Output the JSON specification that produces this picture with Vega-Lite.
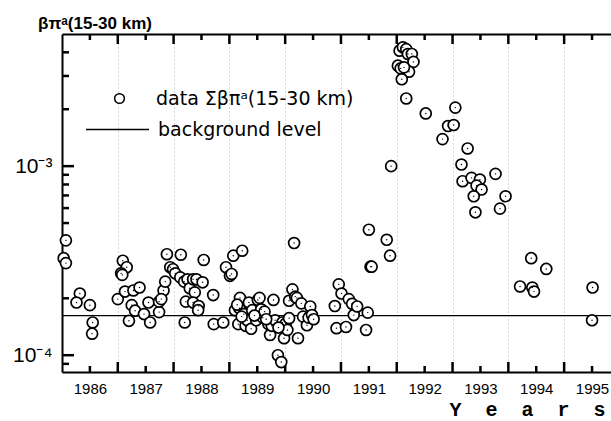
{
  "$schema": "https://vega.github.io/schema/vega-lite/v6.json",
  "width": 549,
  "height": 338,
  "autosize": {"type": "none"},
  "padding": {"left": 62, "top": 34, "right": 0, "bottom": 49},
  "background": "white",
  "title": {"text": "βπᵃ(15-30 km)", "anchor": "start", "frame": "group", "dx": -24, "dy": 18, "offset": 6, "baseline": "alphabetic", "font": "Liberation Sans", "fontSize": 17, "fontWeight": "bold", "color": "black"},
  "datasets": {
    "pts": [
      {"t":1986.07,"v":0.000405},{"t":1986.03,"v":0.000326},{"t":1986.07,"v":0.000307},{"t":1986.32,"v":0.000212},{"t":1986.26,"v":0.000190},{"t":1986.50,"v":0.000184},{"t":1986.55,"v":0.000149},{"t":1986.54,"v":0.000130},
      {"t":1987.00,"v":0.000198},{"t":1987.09,"v":0.000316},{"t":1987.16,"v":0.000292},{"t":1987.06,"v":0.000271},{"t":1987.08,"v":0.000266},{"t":1987.13,"v":0.000217},{"t":1987.20,"v":0.000152},{"t":1987.25,"v":0.000184},{"t":1987.31,"v":0.000172},{"t":1987.28,"v":0.000220},{"t":1987.39,"v":0.000228},{"t":1987.47,"v":0.000165},{"t":1987.55,"v":0.000190},{"t":1987.58,"v":0.000149},{"t":1987.74,"v":0.000169},{"t":1987.74,"v":0.000192},{"t":1987.82,"v":0.000220},{"t":1987.78,"v":0.000198},{"t":1987.85,"v":0.000245},{"t":1987.88,"v":0.000342},{"t":1987.94,"v":0.000292},{"t":1987.99,"v":0.000285},{"t":1988.03,"v":0.000271},{"t":1988.13,"v":0.000340},{"t":1988.12,"v":0.000258},{"t":1988.19,"v":0.000245},{"t":1988.20,"v":0.000149},{"t":1988.22,"v":0.000192},{"t":1988.25,"v":0.000252},{"t":1988.29,"v":0.000226},{"t":1988.35,"v":0.000252},{"t":1988.38,"v":0.000215},{"t":1988.41,"v":0.000252},{"t":1988.35,"v":0.000190},{"t":1988.45,"v":0.000182},{"t":1988.44,"v":0.000173},{"t":1988.52,"v":0.000243},{"t":1988.54,"v":0.000319},{"t":1988.71,"v":0.000208},{"t":1988.72,"v":0.000146},{"t":1988.89,"v":0.000149},{"t":1988.94,"v":0.000292},{"t":1989.01,"v":0.000263},{"t":1989.04,"v":0.000269},{"t":1989.07,"v":0.000336},{"t":1989.23,"v":0.000357},
      {"t":1989.10,"v":0.000173},{"t":1989.16,"v":0.000146},{"t":1989.19,"v":0.000201},{"t":1989.18,"v":0.000177},{"t":1989.26,"v":0.000165},{"t":1989.29,"v":0.000143},{"t":1989.32,"v":0.000153},{"t":1989.35,"v":0.000190},{"t":1989.39,"v":0.000138},{"t":1989.41,"v":0.000173},{"t":1989.48,"v":0.000153},{"t":1989.51,"v":0.000196},{"t":1989.54,"v":0.000201},{"t":1989.57,"v":0.000175},{"t":1989.60,"v":0.000158},{"t":1989.63,"v":0.000170},{"t":1989.70,"v":0.000146},{"t":1989.73,"v":0.000128},{"t":1989.76,"v":0.000143},{"t":1989.79,"v":0.000196},{"t":1989.82,"v":0.000153},{"t":1989.87,"v":0.000100},{"t":1989.93,"v":0.000092},{"t":1989.95,"v":0.000149},{"t":1989.98,"v":0.000123},{"t":1990.01,"v":0.000147},{"t":1990.04,"v":0.000136},{"t":1990.07,"v":0.000157},{"t":1990.13,"v":0.000223},{"t":1990.16,"v":0.000392},{"t":1990.07,"v":0.000194},{"t":1990.18,"v":0.000204},{"t":1990.21,"v":0.000201},{"t":1990.29,"v":0.000188},{"t":1990.32,"v":0.000160},{"t":1990.39,"v":0.000144},{"t":1990.42,"v":0.000158},{"t":1990.45,"v":0.000181},{"t":1990.48,"v":0.000163},{"t":1990.51,"v":0.000155},{"t":1990.23,"v":0.000123},
      {"t":1989.22,"v":0.000160},{"t":1989.45,"v":0.000162},{"t":1989.66,"v":0.000155},{"t":1989.88,"v":0.000140},{"t":1989.14,"v":0.000185},
      {"t":1990.89,"v":0.000182},{"t":1990.92,"v":0.000139},{"t":1990.96,"v":0.000237},{"t":1991.01,"v":0.000212},{"t":1991.09,"v":0.000141},{"t":1991.14,"v":0.000198},{"t":1991.20,"v":0.000187},{"t":1991.23,"v":0.000163},{"t":1991.29,"v":0.000181},{"t":1991.45,"v":0.000136},{"t":1991.48,"v":0.000168},{"t":1991.50,"v":0.000461},{"t":1991.53,"v":0.000294},{"t":1991.55,"v":0.000294},{"t":1991.82,"v":0.000408},{"t":1991.88,"v":0.000336},{"t":1991.90,"v":0.001},
      {"t":1992.05,"v":0.00408},{"t":1992.11,"v":0.00425},{"t":1992.17,"v":0.00416},{"t":1992.20,"v":0.00392},{"t":1992.27,"v":0.00392},{"t":1992.30,"v":0.00356},{"t":1992.22,"v":0.00316},{"t":1992.02,"v":0.00340},{"t":1992.07,"v":0.00329},{"t":1992.13,"v":0.00333},{"t":1992.09,"v":0.00288},{"t":1992.17,"v":0.00228},
      {"t":1992.52,"v":0.00190},{"t":1993.05,"v":0.00204},{"t":1992.92,"v":0.00163},{"t":1993.02,"v":0.00165},{"t":1992.82,"v":0.00139},{"t":1993.27,"v":0.00124},{"t":1993.16,"v":0.00102},{"t":1993.77,"v":0.00091},{"t":1993.18,"v":0.000832},{"t":1993.34,"v":0.000867},{"t":1993.49,"v":0.000849},{"t":1993.43,"v":0.000789},{"t":1993.52,"v":0.000752},{"t":1993.38,"v":0.000693},{"t":1993.95,"v":0.000693},{"t":1993.85,"v":0.000596},{"t":1993.41,"v":0.000570},
      {"t":1994.21,"v":0.000231},{"t":1994.41,"v":0.000326},{"t":1994.43,"v":0.000228},{"t":1994.46,"v":0.000217},{"t":1994.68,"v":0.000286},
      {"t":1995.51,"v":0.000228},{"t":1995.50,"v":0.000153}
    ],
    "bg": [{"level": 0.000162}],
    "xminor": [{"yr":1986.5},{"yr":1987.5},{"yr":1988.5},{"yr":1989.5},{"yr":1990.5},{"yr":1991.5},{"yr":1992.5},{"yr":1993.5},{"yr":1994.5},{"yr":1995.5}],
    "xmajor": [{"yr":1987},{"yr":1988},{"yr":1989},{"yr":1990},{"yr":1991},{"yr":1992},{"yr":1993},{"yr":1994},{"yr":1995}],
    "yminor": [{"val":0.00009},{"val":0.0002},{"val":0.0003},{"val":0.0004},{"val":0.0005},{"val":0.0006},{"val":0.0007},{"val":0.0008},{"val":0.0009},{"val":0.002},{"val":0.003},{"val":0.004}],
    "ymajor": [{"val":0.0001},{"val":0.001}]
  },
  "config": {
    "font": "Liberation Sans",
    "view": {"stroke": null},
    "axis": {"domainColor": "black", "domainWidth": 2, "tickColor": "black", "tickWidth": 2, "labelColor": "black", "titleColor": "black", "grid": false}
  },
  "resolve": {"scale": {"x": "shared", "y": "shared"}, "axis": {"x": "independent", "y": "independent"}},
  "layer": [
    {
      "data": {"name": "pts"},
      "mark": {"type": "point", "opacity": 0},
      "encoding": {
        "x": {"field": "t", "type": "quantitative",
          "scale": {"domain": [1986, 1995.84], "nice": false, "zero": false},
          "axis": {"orient": "top", "values": [1987, 1988, 1989, 1990, 1991, 1992, 1993, 1994, 1995], "labels": false, "ticks": false, "domain": true, "title": null,
            "grid": true, "gridDash": [1, 3], "gridColor": "#777777", "gridWidth": 1, "gridOpacity": 0.6}},
        "y": {"field": "v", "type": "quantitative", "scale": {"type": "log", "domain": [0.0000815, 0.005], "nice": false}, "axis": null}
      }
    },
    {
      "data": {"name": "bg"},
      "mark": {"type": "rule", "color": "black", "strokeWidth": 1.3},
      "encoding": {
        "y": {"field": "level", "type": "quantitative", "scale": {"type": "log", "domain": [0.0000815, 0.005], "nice": false}, "axis": null},
        "strokeDash": {"datum": "background level",
          "scale": {"domain": ["background level"], "range": [[1, 0]]},
          "legend": {"orient": "none", "legendX": 23, "legendY": 63, "title": null, "padding": 0,
            "symbolType": "stroke", "symbolSize": 3969, "symbolStrokeColor": "black", "symbolStrokeWidth": 1.3,
            "labelFont": "DejaVu Sans", "labelFontSize": 19, "labelColor": "black", "labelOffset": 8, "labelLimit": 400}}
      }
    },
    {
      "data": {"name": "xminor"},
      "mark": {"type": "tick", "orient": "vertical", "color": "black", "thickness": 2.5, "size": 12, "clip": true, "opacity": 1},
      "encoding": {
        "x": {"field": "yr", "type": "quantitative", "scale": {"domain": [1986, 1995.84], "nice": false, "zero": false}, "axis": null},
        "y": {"datum": 0.005, "type": "quantitative", "scale": {"type": "log", "domain": [0.0000815, 0.005], "nice": false}, "axis": null}
      }
    },
    {
      "data": {"name": "xminor"},
      "mark": {"type": "tick", "orient": "vertical", "color": "black", "thickness": 2.5, "size": 12, "clip": true, "opacity": 1},
      "encoding": {
        "x": {"field": "yr", "type": "quantitative", "scale": {"domain": [1986, 1995.84], "nice": false, "zero": false}, "axis": null},
        "y": {"datum": 0.0000815, "type": "quantitative", "scale": {"type": "log", "domain": [0.0000815, 0.005], "nice": false}, "axis": null}
      }
    },
    {
      "data": {"name": "xmajor"},
      "mark": {"type": "tick", "orient": "vertical", "color": "black", "thickness": 2.5, "size": 20, "clip": true, "opacity": 1},
      "encoding": {
        "x": {"field": "yr", "type": "quantitative", "scale": {"domain": [1986, 1995.84], "nice": false, "zero": false}, "axis": null},
        "y": {"datum": 0.005, "type": "quantitative", "scale": {"type": "log", "domain": [0.0000815, 0.005], "nice": false}, "axis": null}
      }
    },
    {
      "data": {"name": "xmajor"},
      "mark": {"type": "tick", "orient": "vertical", "color": "black", "thickness": 2.5, "size": 20, "clip": true, "opacity": 1},
      "encoding": {
        "x": {"field": "yr", "type": "quantitative", "scale": {"domain": [1986, 1995.84], "nice": false, "zero": false}, "axis": null},
        "y": {"datum": 0.0000815, "type": "quantitative", "scale": {"type": "log", "domain": [0.0000815, 0.005], "nice": false}, "axis": null}
      }
    },
    {
      "data": {"name": "yminor"},
      "mark": {"type": "tick", "orient": "horizontal", "color": "black", "thickness": 2.5, "size": 14, "clip": true, "opacity": 1},
      "encoding": {
        "y": {"field": "val", "type": "quantitative", "scale": {"type": "log", "domain": [0.0000815, 0.005], "nice": false}, "axis": null},
        "x": {"datum": 1986, "type": "quantitative", "scale": {"domain": [1986, 1995.84], "nice": false, "zero": false}, "axis": null}
      }
    },
    {
      "data": {"name": "ymajor"},
      "mark": {"type": "tick", "orient": "horizontal", "color": "black", "thickness": 2.5, "size": 24, "clip": true, "opacity": 1},
      "encoding": {
        "y": {"field": "val", "type": "quantitative", "scale": {"type": "log", "domain": [0.0000815, 0.005], "nice": false}, "axis": null},
        "x": {"datum": 1986, "type": "quantitative", "scale": {"domain": [1986, 1995.84], "nice": false, "zero": false}, "axis": null}
      }
    },
    {
      "data": {"name": "pts"},
      "mark": {"type": "point", "shape": "circle", "filled": true, "fill": "white", "strokeWidth": 1.7, "size": 120, "opacity": 1},
      "encoding": {
        "x": {"field": "t", "type": "quantitative",
          "scale": {"domain": [1986, 1995.84], "nice": false, "zero": false},
          "axis": {"orient": "bottom", "values": [1986.5, 1987.5, 1988.5, 1989.5, 1990.5, 1991.5, 1992.5, 1993.5, 1994.5, 1995.5], "ticks": false, "labelExpr": "'' + floor(datum.value)", "labelFontSize": 15, "labelPadding": 9, "labelFlush": false, "labelOverlap": false, "domain": true,
            "title": "Y\u00a0\u00a0e\u00a0\u00a0a\u00a0\u00a0r\u00a0\u00a0s", "titleFont": "Liberation Mono", "titleFontSize": 20, "titleFontWeight": "bold", "titleAlign": "right", "titleAnchor": "end", "titleX": 543, "titleY": 43, "titleBaseline": "alphabetic"}},
        "y": {"field": "v", "type": "quantitative",
          "scale": {"type": "log", "domain": [0.0000815, 0.005], "nice": false},
          "axis": {"orient": "left", "values": [0.0001, 0.001], "ticks": false, "labelExpr": "datum.value < 0.0005 ? '10⁻⁴' : '10⁻³'", "labelFontSize": 21, "labelPadding": 10, "domain": true, "title": null}},
        "stroke": {"datum": "data Σβπᵃ(15-30 km)",
          "scale": {"domain": ["data Σβπᵃ(15-30 km)"], "range": ["black"]},
          "legend": {"orient": "none", "legendX": 48, "legendY": 55, "title": null, "padding": 0,
            "symbolType": "circle", "symbolSize": 95, "symbolStrokeColor": "black", "symbolFillColor": "white", "symbolStrokeWidth": 1.5, "symbolOpacity": 1,
            "labelFont": "DejaVu Sans", "labelFontSize": 19, "labelColor": "black", "labelOffset": 27, "labelLimit": 400}}
      }
    },
    {
      "data": {"name": "pts"},
      "mark": {"type": "point", "shape": "circle", "filled": true, "color": "black", "size": 2, "opacity": 1},
      "encoding": {
        "x": {"field": "t", "type": "quantitative", "scale": {"domain": [1986, 1995.84], "nice": false, "zero": false}, "axis": null},
        "y": {"field": "v", "type": "quantitative", "scale": {"type": "log", "domain": [0.0000815, 0.005], "nice": false}, "axis": null}
      }
    }
  ]
}
